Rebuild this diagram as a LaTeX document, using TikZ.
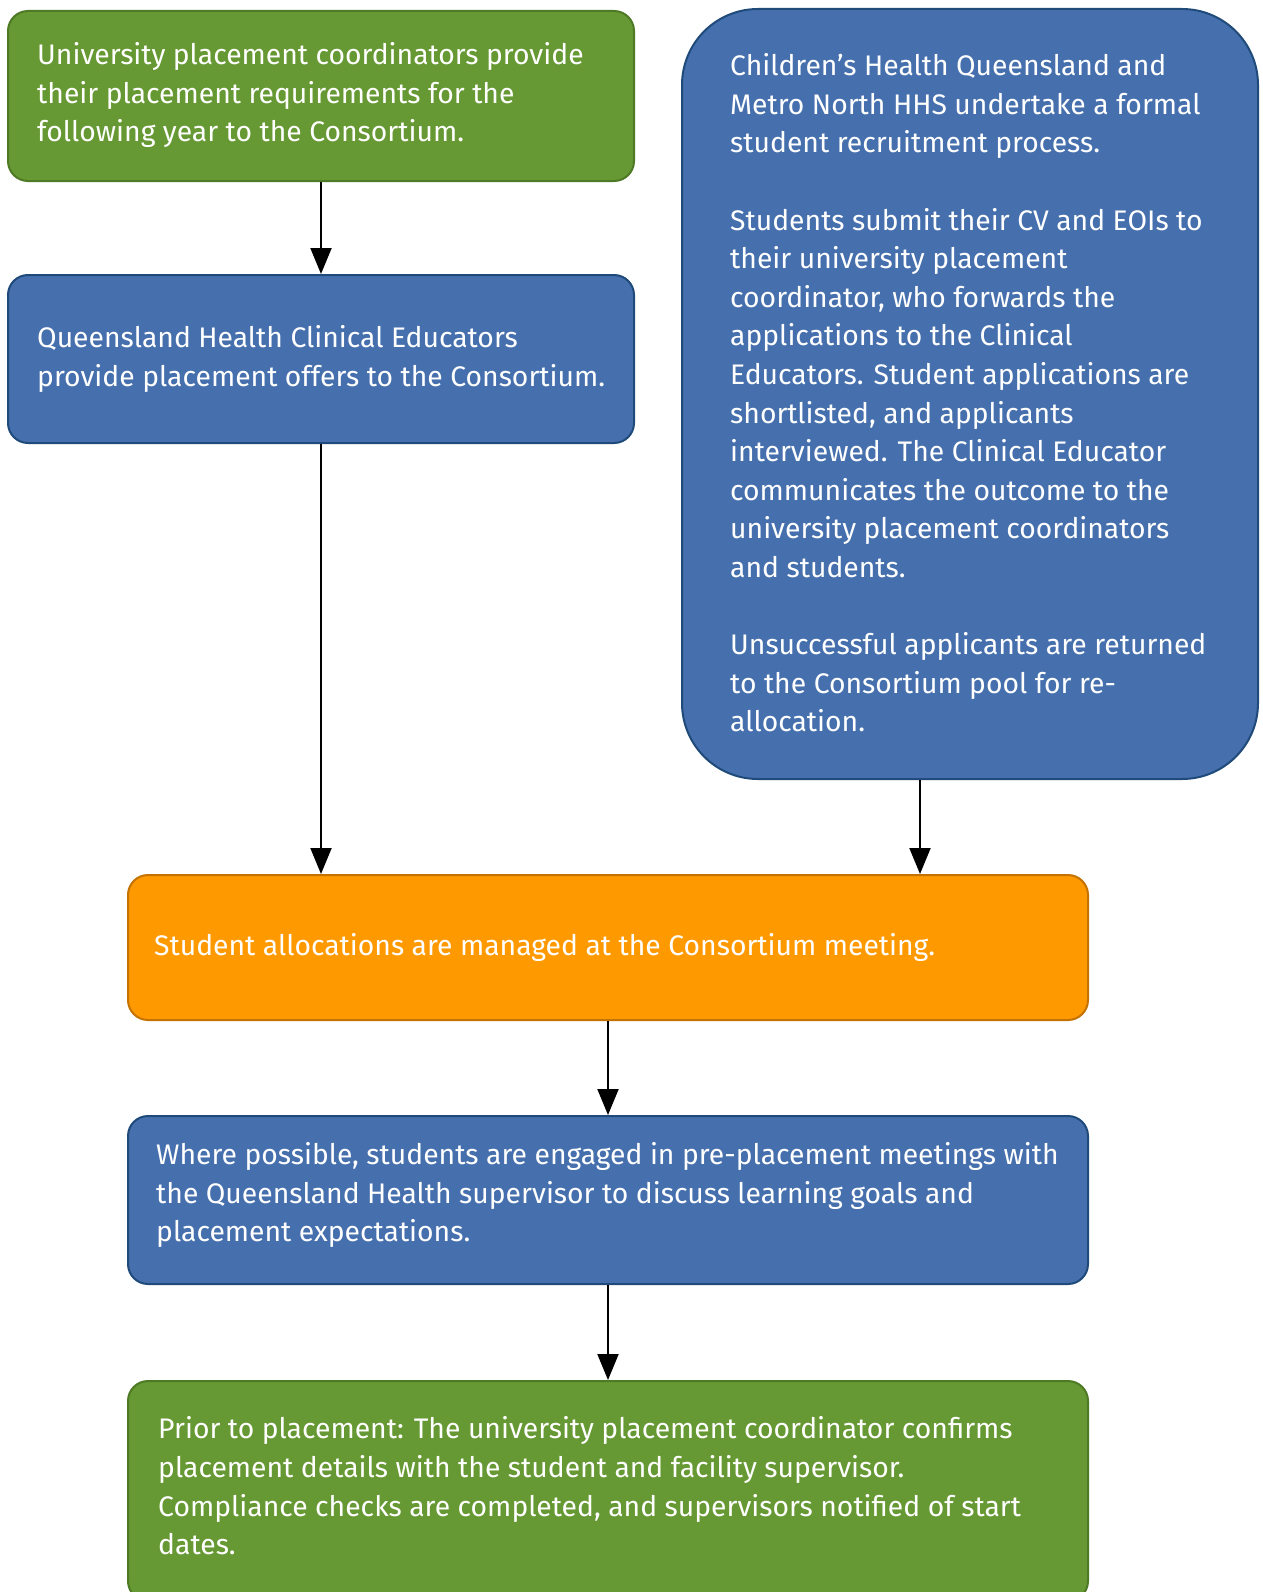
\documentclass[tikz,border=0pt]{standalone}
\usepackage{fontspec}
\setmainfont{Fira Sans}
\usetikzlibrary{arrows.meta}
\definecolor{gfill}{HTML}{669933}
\definecolor{gdraw}{HTML}{4E7A25}
\definecolor{bfill}{HTML}{4670AD}
\definecolor{bdraw}{HTML}{1F4A7A}
\definecolor{ofill}{HTML}{FF9900}
\definecolor{odraw}{HTML}{C47200}
\begin{document}
\begin{tikzpicture}[x=1pt,y=-1pt,
  box/.style={draw, line width=2pt, rounded corners=20pt, inner sep=0pt},
  gbox/.style={box, fill=gfill, draw=gdraw},
  bbox/.style={box, fill=bfill, draw=bdraw},
  obox/.style={box, fill=ofill, draw=odraw},
  txt/.style={anchor=west, align=left, inner sep=0pt, text=white, font=\fontsize{28.3}{38.6}\selectfont},
  arr/.style={line width=2pt, -{Triangle[length=26pt,width=21pt]}}]
\useasboundingbox (0,0) rectangle (1262,1592);
\fill[white] (0,0) rectangle (1262,1592);
% boxes
\node[gbox, minimum width=626pt, minimum height=170pt] (b1) at (321,96) {};
\node[bbox, minimum width=626pt, minimum height=168pt] (b2) at (321,359) {};
\node[bbox, rounded corners=76pt, minimum width=576pt, minimum height=770pt] (b3) at (970,394) {};
\node[obox, minimum width=960pt, minimum height=145pt] (b4) at (608,947.5) {};
\node[bbox, minimum width=960pt, minimum height=168pt] (b5) at (608,1200) {};
\node[gbox, minimum width=960pt, minimum height=220pt] (b6) at (608,1491) {};
% texts
\node[txt] (t1) at ([xshift=30pt,yshift=1pt]b1.west) {University placement coordinators provide\\their placement requirements for the\\following year to the Consortium.};
\node[txt] (t2) at ([xshift=30pt,yshift=0pt]b2.west) {Queensland Health Clinical Educators\\provide placement offers to the Consortium.};
\node[txt] (t3) at ([xshift=49pt,yshift=1pt]b3.west) {Children’s Health Queensland and\\Metro North HHS undertake a formal\\student recruitment process.\\[38.6pt]Students submit their CV and EOIs to\\their university placement\\coordinator, who forwards the\\applications to the Clinical\\Educators. Student applications are\\shortlisted, and applicants\\interviewed. The Clinical Educator\\communicates the outcome to the\\university placement coordinators\\and students.\\[38.6pt]Unsuccessful applicants are returned\\to the Consortium pool for re-\\allocation.};
\node[txt] (t4) at ([xshift=27pt,yshift=0pt]b4.west) {Student allocations are managed at the Consortium meeting.};
\node[txt] (t5) at ([xshift=29pt,yshift=5pt]b5.west) {Where possible, students are engaged in pre-placement meetings with\\the Queensland Health supervisor to discuss learning goals and\\placement expectations.};
\node[txt] (t6) at ([xshift=31pt,yshift=5pt]b6.west) {Prior to placement: The university placement coordinator confirms\\placement details with the student and facility supervisor.\\Compliance checks are completed, and supervisors notified of start\\dates.};
% arrows
\draw[arr] (b1.south) -- (b2.north);
\draw[arr] (b2.south) -- (b2.south |- b4.north);
\draw[arr] (b3.south -| 920,0) -- (920,0 |- b4.north);
\draw[arr] (b4.south) -- (b5.north);
\draw[arr] (b5.south) -- (b6.north);
\end{tikzpicture}
\end{document}
